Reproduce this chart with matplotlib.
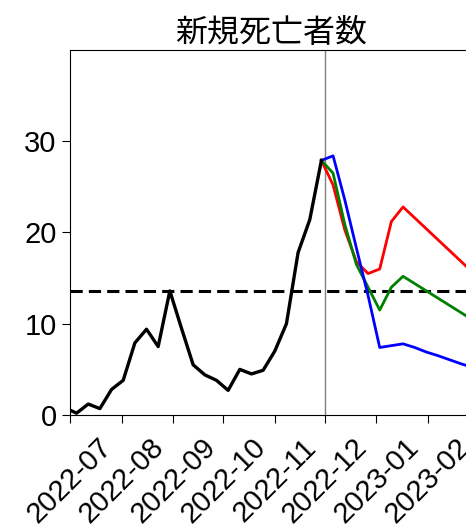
import numpy as np
import pandas as pd
import matplotlib
matplotlib.use("Agg")
import matplotlib.pyplot as plt
import matplotlib.dates as mdates

plt.rcParams['font.family'] = ['Liberation Sans', 'Noto Sans CJK JP', 'DejaVu Sans']

# observed weekly deaths
obs_dates = pd.date_range("2022-06-28", "2022-11-29", freq="7D")
obs_vals = [0.8, 0.2, 1.2, 0.7, 2.8, 3.8, 7.9, 9.4, 7.5, 13.6, 9.5, 5.5,
            4.4, 3.8, 2.7, 5.0, 4.5, 4.9, 7.0, 10.0, 17.8, 21.4, 27.9]

# forecast scenarios
fc_dates = pd.date_range("2022-11-29", "2023-02-28", freq="7D")
fc_red = [27.9, 25.2, 20.3, 16.8, 15.5, 16.0, 21.2, 22.8, 21.6, 20.4, 19.2, 18.0, 16.8, 15.6]
fc_green = [27.9, 26.5, 20.9, 16.5, 14.0, 11.5, 14.0, 15.2, 14.4, 13.6, 12.8, 12.0, 11.2, 10.4]
fc_blue = [27.9, 28.4, 23.6, 18.3, 13.1, 7.4, 7.6, 7.8, 7.4, 6.9, 6.5, 6.05, 5.6, 5.2]

prev_peak = 13.6
split_date = pd.Timestamp("2022-12-01")

fig = plt.figure(figsize=(4.66, 5.29), dpi=100)
ax = fig.add_axes([0.150, 0.2155, 0.865, 0.69])

ax.plot(obs_dates, obs_vals, color="black", lw=2.4, zorder=3)
ax.plot(fc_dates, fc_red, color="red", lw=2.0, zorder=2)
ax.plot(fc_dates, fc_green, color="green", lw=2.0, zorder=2)
ax.plot(fc_dates, fc_blue, color="blue", lw=2.0, zorder=2)
ax.axhline(prev_peak, color="black", lw=2.2, ls="--", dashes=(4, 2), zorder=1)
ax.axvline(split_date, color="gray", lw=1.0, zorder=1)

ax.set_xlim(pd.Timestamp("2022-07-01"), pd.Timestamp("2023-02-28"))
ax.set_ylim(0, 40)
ax.set_yticks([0, 10, 20, 30])
ax.xaxis.set_major_locator(mdates.MonthLocator())
ax.xaxis.set_major_formatter(mdates.DateFormatter("%Y-%m"))
ax.tick_params(labelsize=21, length=6)
ax.tick_params(axis="x", pad=7)
plt.setp(ax.get_xticklabels(), rotation=45)
ax.set_title("新規死亡者数", fontsize=23)

fig.savefig("out.png", dpi=100)
